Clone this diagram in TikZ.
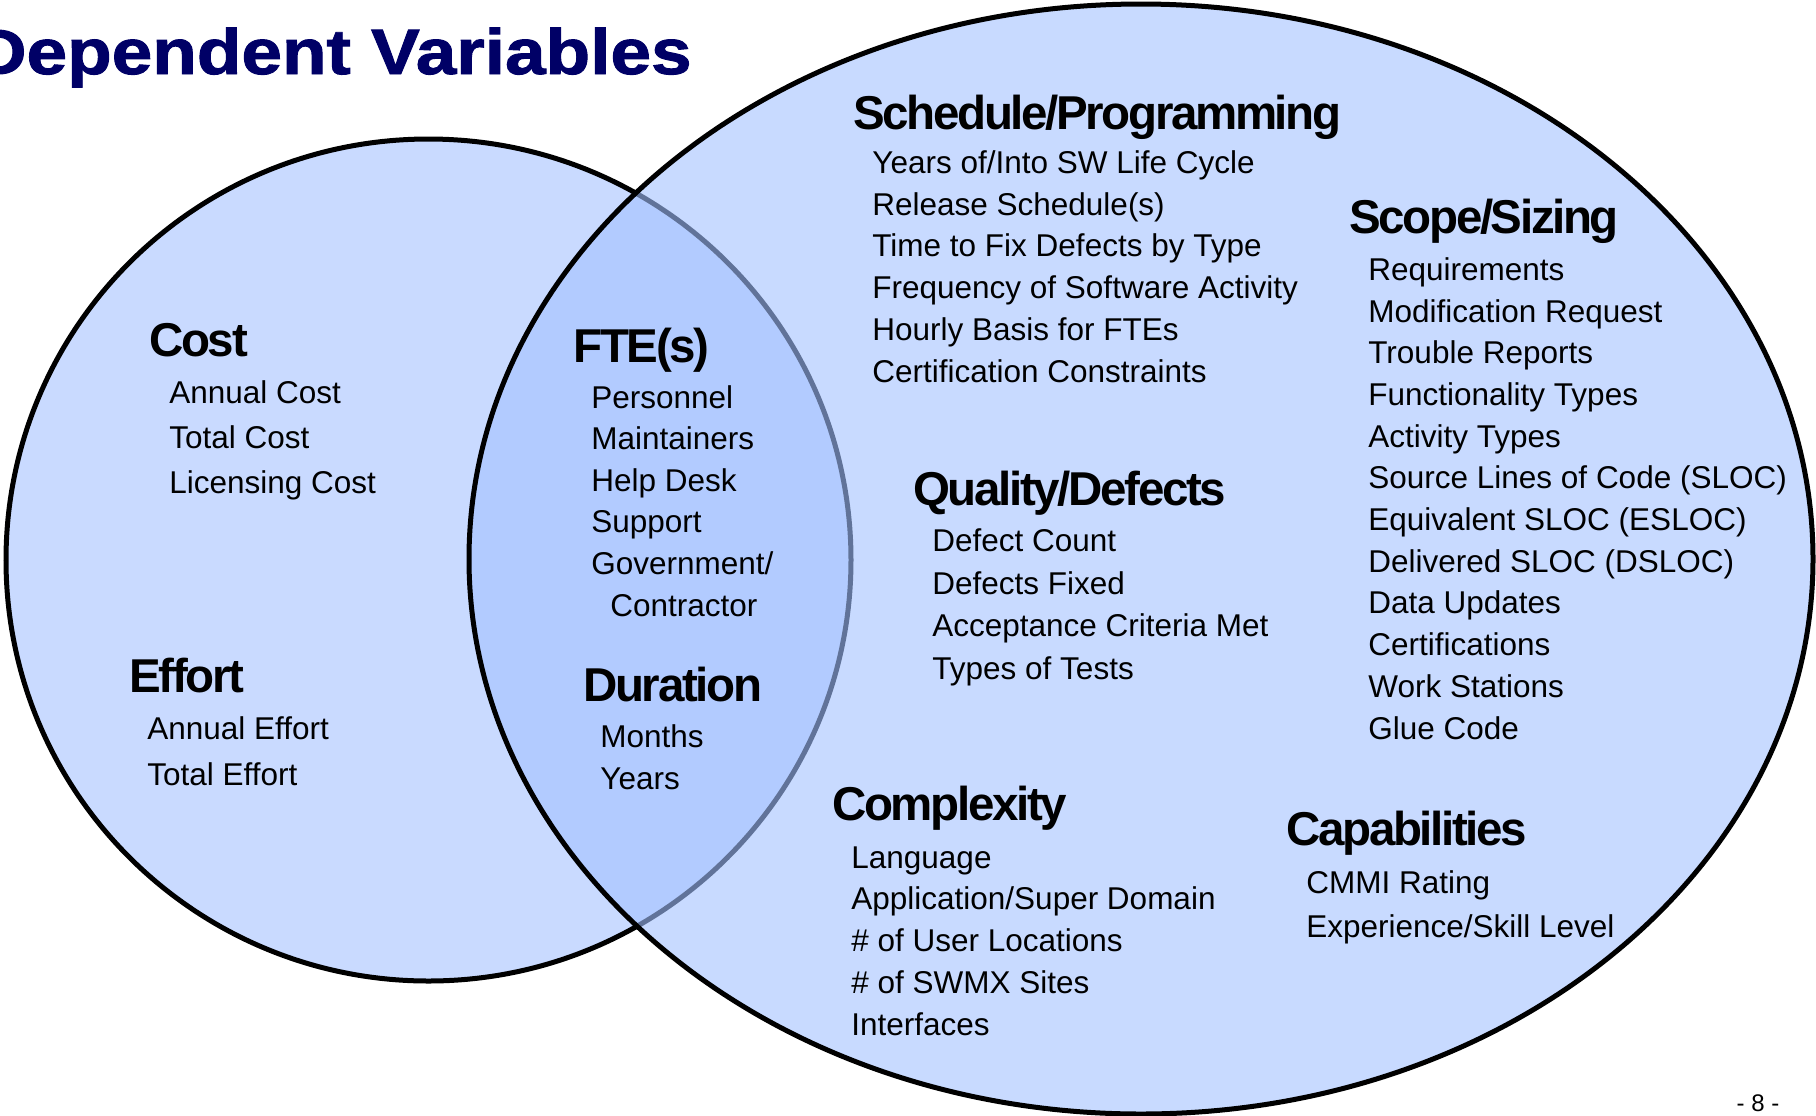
\documentclass[tikz,border=0pt]{standalone}
\usepackage{fontspec}
\usepackage{xcolor}
\usepackage{tikz}
\setmainfont{Liberation Sans}
\newfontfamily\headfont[LetterSpace=-5]{Liberation Sans}
\newfontfamily\titlefont[FakeStretch=1.14,FakeBold=1.5]{Liberation Sans Bold}

\definecolor{leftfill}{RGB}{201,218,255}
\definecolor{rightfill}{RGB}{163,193,255}
\definecolor{titleblue}{RGB}{0,0,102}

\begin{document}
\begin{tikzpicture}[x=0.5pt, y=-0.5pt,
    head/.style={anchor=base west, inner sep=0pt, font=\headfont\bfseries\fontsize{23.75}{28}\selectfont},
    items/.style={anchor=base west, inner sep=0pt, align=left, font=\fontsize{15.75}{#1}\selectfont},
    items/.default=20.85,
    ring/.style={draw=black, line width=2.5pt}]
    \useasboundingbox (0,0) rectangle (1816,1115);

    % the two sets
    \draw[ring, fill=leftfill] (428.5,560) ellipse [x radius=422.5, y radius=421];
    \draw[ring, fill=rightfill, fill opacity=0.6] (1141,559) ellipse [x radius=672, y radius=555];

    \node[anchor=base east, inner sep=0pt, text=titleblue, font=\titlefont\fontsize{32}{36}\selectfont] (title) at (692,74) {Dependent Variables};

    % left set (lists sit on the baseline of their last line)
    \node[head] (cost) at (149,356) {Cost};
    \node[items=22.5] (costitems) at (169,493) {Annual Cost\\Total Cost\\Licensing Cost};
    \node[head] (effort) at (129,692) {Effort};
    \node[items=23] (effortitems) at (147,785) {Annual Effort\\Total Effort};

    % overlap
    \node[head] (fte) at (573,362) {FTE(s)};
    \node[items=20.8] (fteitems) at (591,616) {Personnel\\Maintainers\\Help Desk\\Support\\Government/\\\hspace*{9.5pt}Contractor};
    \node[head] (duration) at (583,701) {Duration};
    \node[items=21] (durationitems) at (600,789) {Months\\Years};

    % right set
    \node[head] (schedule) at (853,129) {Schedule/Programming};
    \node[items] (scheduleitems) at (872,382) {Years of/Into SW Life Cycle\\Release Schedule(s)\\Time to Fix Defects by Type\\Frequency of Software Activity\\Hourly Basis for FTEs\\Certification Constraints};
    \node[head] (scope) at (1349,233) {Scope/Sizing};
    \node[items] (scopeitems) at (1368,739) {Requirements\\Modification Request\\Trouble Reports\\Functionality Types\\Activity Types\\Source Lines of Code (SLOC)\\Equivalent SLOC (ESLOC)\\Delivered SLOC (DSLOC)\\Data Updates\\Certifications\\Work Stations\\Glue Code};
    \node[head] (quality) at (913,505) {Quality/Defects};
    \node[items=21.2] (qualityitems) at (932,679) {Defect Count\\Defects Fixed\\Acceptance Criteria Met\\Types of Tests};
    \node[head] (complexity) at (832,820) {Complexity};
    \node[items] (complexityitems) at (851,1035) {Language\\Application/Super Domain\\\# of User Locations\\\# of SWMX Sites\\Interfaces};
    \node[head] (capabilities) at (1286,845) {Capabilities};
    \node[items=22] (capabilitiesitems) at (1306,937) {CMMI Rating\\Experience/Skill Level};

    \node[anchor=base, inner sep=0pt, font=\fontsize{12}{14}\selectfont] (pagenum) at (1758,1111) {- 8 -};
\end{tikzpicture}
\end{document}
